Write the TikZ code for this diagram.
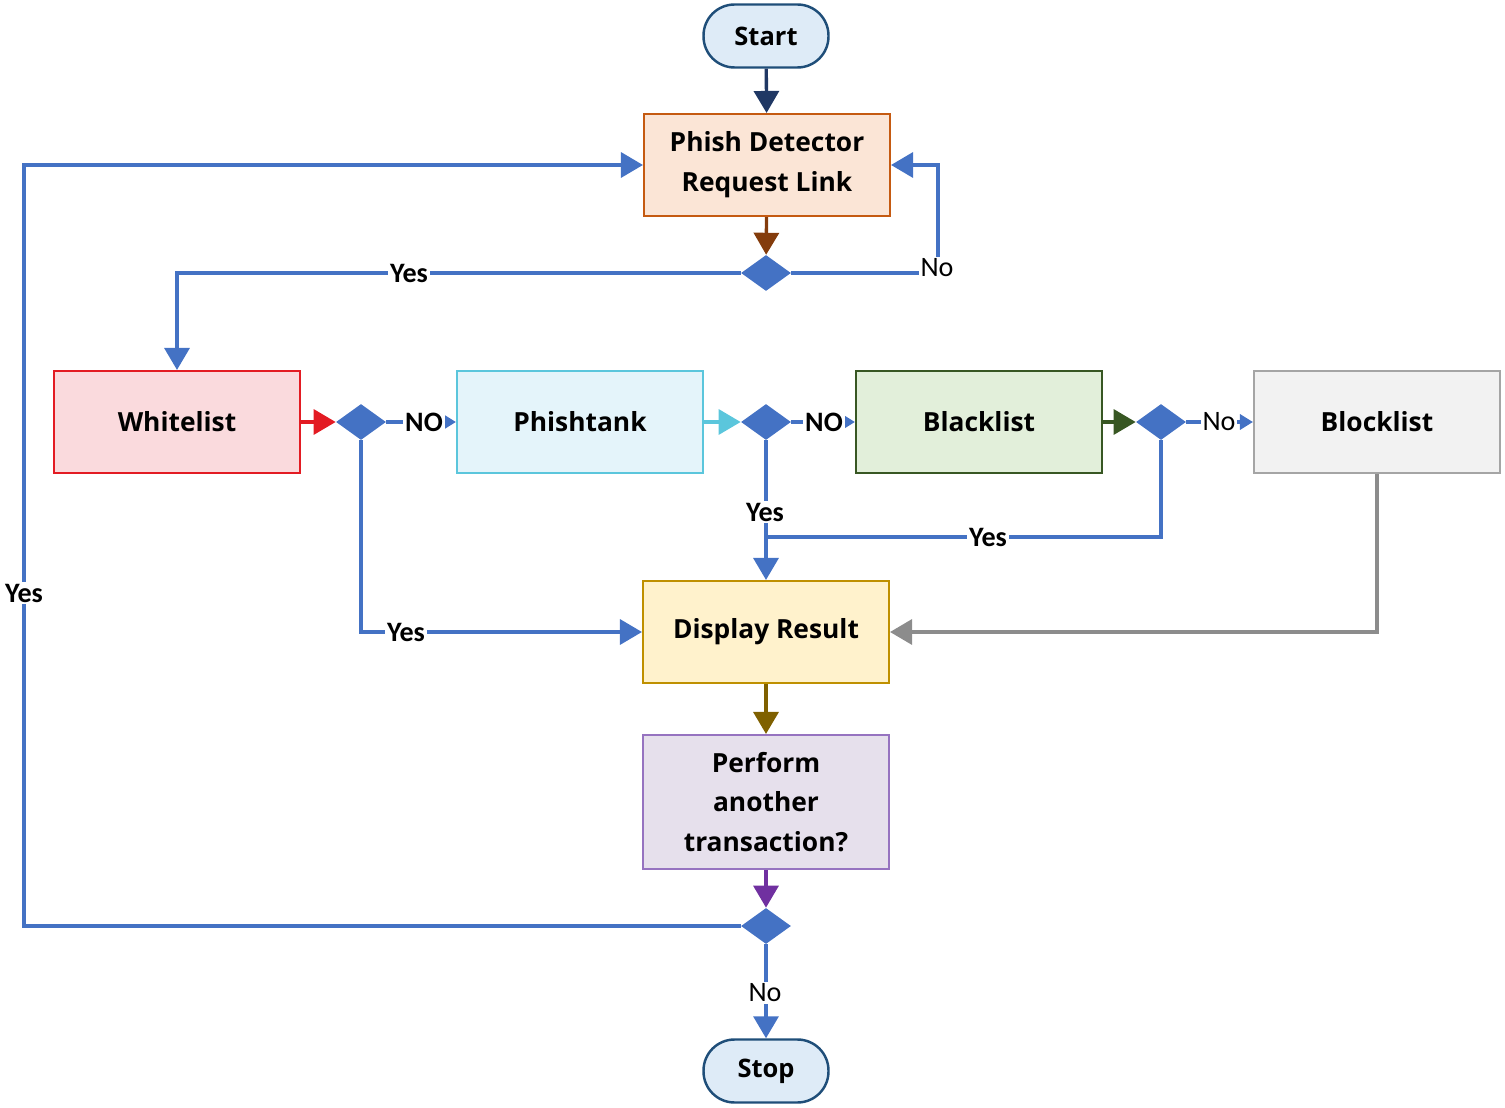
\documentclass[tikz,border=0pt]{standalone}
\usepackage{fontspec}
\setmainfont{Open Sans}
\newfontfamily\lblfont{Carlito}
\usetikzlibrary{arrows.meta,shapes.geometric}
\definecolor{lblue}{HTML}{4472C4}
\definecolor{navy}{HTML}{203864}
\definecolor{termf}{HTML}{DEEBF7}
\definecolor{termc}{HTML}{1F4E79}
\definecolor{phf}{HTML}{FBE5D6}
\definecolor{phc}{HTML}{C55A11}
\definecolor{phar}{HTML}{843C0C}
\definecolor{whf}{HTML}{FADADD}
\definecolor{whc}{HTML}{E31B23}
\definecolor{ptf}{HTML}{E4F4FA}
\definecolor{ptc}{HTML}{5BC6DC}
\definecolor{blf}{HTML}{E2EFDA}
\definecolor{blc}{HTML}{385723}
\definecolor{bkf}{HTML}{F2F2F2}
\definecolor{bkc}{HTML}{A5A5A5}
\definecolor{grar}{HTML}{8C8C8C}
\definecolor{dsf}{HTML}{FFF2CC}
\definecolor{dsc}{HTML}{BF9000}
\definecolor{dsar}{HTML}{7F6000}
\definecolor{pff}{HTML}{E6E0EC}
\definecolor{pfc}{HTML}{9673C0}
\definecolor{pfar}{HTML}{7030A0}
\tikzset{
  box/.style={draw, line width=1.2pt, minimum width=4.92cm, minimum height=2.04cm,
    font=\bfseries\fontsize{15}{22.7}\selectfont, align=center, inner sep=0pt},
  term/.style={draw=termc, fill=termf, line width=1.4pt, rounded corners=0.62cm,
    minimum width=2.5cm, minimum height=1.26cm, inner sep=0pt,
    font=\bfseries\fontsize{14.5}{16}\selectfont},
  dec/.style={diamond, fill=lblue, draw=none, minimum width=1cm, minimum height=0.72cm, inner sep=0pt},
  flow/.style={draw=lblue, line width=1.9pt},
  conn/.style={line width=1.9pt},
  tipL/.style={-{Triangle[length=0.44cm,width=0.5cm]}},
  tipS/.style={-{Triangle[length=0.26cm,width=0.3cm]}},
  lbl/.style={fill=white, inner sep=1pt, text=black, font=\lblfont\bfseries\fontsize{16}{16}\selectfont},
  lblr/.style={fill=white, inner sep=1pt, text=black, font=\lblfont\fontsize{16}{16}\selectfont},
}
\begin{document}
\begin{tikzpicture}[x=0.02cm,y=-0.02cm]
\useasboundingbox (0,0) rectangle (1505,1108);
% nodes
\node[term] (start) at (766,36) {Start};
\node[box, draw=phc, fill=phf] (phish) at (767,165) {Phish Detector\\Request Link};
\node[dec] (d1) at (766,273) {};
\node[box, draw=whc, fill=whf] (white) at (177,422) {Whitelist};
\node[dec] (d2) at (361,422) {};
\node[box, draw=ptc, fill=ptf] (ptank) at (580,422) {Phishtank};
\node[dec] (d3) at (766,422) {};
\node[box, draw=blc, fill=blf] (black) at (979,422) {Blacklist};
\node[dec] (d5) at (1161,422) {};
\node[box, draw=bkc, fill=bkf] (block) at (1377,422) {Blocklist};
\node[box, draw=dsc, fill=dsf] (disp) at (766,632) {Display Result};
\node[box, draw=pfc, fill=pff, minimum height=2.68cm] (perf) at (766,802) {Perform\\another\\transaction?};
\node[dec] (d4) at (766,926) {};
\node[term] (stop) at (766,1071) {Stop};
\coordinate (c1) at (177,273);
\coordinate (c2) at (938,273);
\coordinate (c3) at (938,165);
\coordinate (c4) at (24,926);
\coordinate (c5) at (24,165);
\coordinate (c6) at (361,632);
\coordinate (c7) at (1161,537);
\coordinate (c8) at (766,537);
\coordinate (c9) at (1377,632);
% connectors
\draw[conn, navy, tipL] (start) -- (phish);
\draw[conn, phar, tipL] (phish) -- (d1);
\draw[flow, tipL] (d1.west) -- (c1) -- (white.north);
\draw[flow, tipL] (d1.east) -- (c2) -- (c3) -- (phish.east);
\draw[flow, tipL] (d4.west) -- (c4) -- (c5) -- (phish.west);
\draw[conn, whc, tipL] (white.east) -- (d2.west);
\draw[flow, tipS] (d2.east) -- (ptank.west);
\draw[conn, ptc, tipL] (ptank.east) -- (d3.west);
\draw[flow, tipS] (d3.east) -- (black.west);
\draw[conn, blc, tipL] (black.east) -- (d5.west);
\draw[flow, tipS] (d5.east) -- (block.west);
\draw[flow, tipL] (d2.south) -- (c6) -- (disp.west);
\draw[flow, tipL] (d3.south) -- (disp.north);
\draw[flow] (d5.south) -- (c7) -- (c8);
\draw[conn, grar, tipL] (block.south) -- (c9) -- (disp.east);
\draw[conn, dsar, tipL] (disp) -- (perf);
\draw[conn, pfar, tipL] (perf) -- (d4);
\draw[flow, tipL] (d4.south) -- (stop.north);
% labels
\node[lbl] at (409,273) {Yes};
\node[lblr] at (937,268) {No};
\node[lbl] at (24,593) {Yes};
\node[lbl] at (424,422) {NO};
\node[lbl] at (824,422) {NO};
\node[lblr] at (1219,422) {No};
\node[lbl] at (406,632) {Yes};
\node[lbl] at (765,512) {Yes};
\node[lbl] at (988,537) {Yes};
\node[lblr] at (765,993) {No};
\end{tikzpicture}
\end{document}
